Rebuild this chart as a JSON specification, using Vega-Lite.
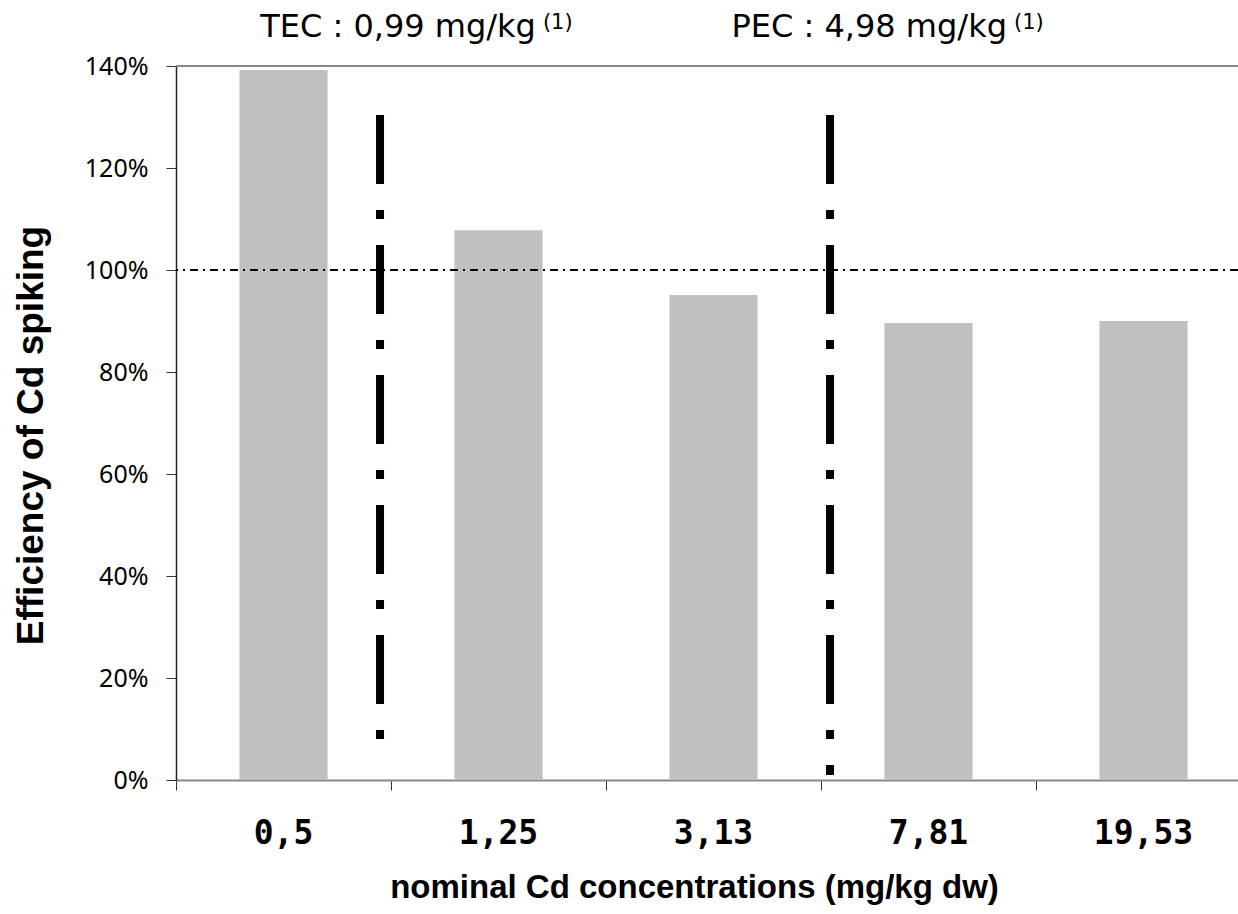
{
  "$schema": "https://vega.github.io/schema/vega-lite/v6.json",
  "width": 1062,
  "height": 714,
  "autosize": "none",
  "padding": {"left": 176, "top": 66, "right": 0, "bottom": 134},
  "background": "white",
  "config": {"view": {"stroke": null}},
  "datasets": {
    "bars": [
      {"conc": "0,5", "eff": 1.392},
      {"conc": "1,25", "eff": 1.078},
      {"conc": "3,13", "eff": 0.951},
      {"conc": "7,81", "eff": 0.896},
      {"conc": "19,53", "eff": 0.9}
    ],
    "limits": [
      {"name": "TEC", "pos": 0.949, "top": 1.304, "bottom": 0.08, "labelEnd": 1.674, "label": "TEC : 0,99 mg/kg", "sup": "(1)"},
      {"name": "PEC", "pos": 3.042, "top": 1.304, "bottom": 0.01, "labelEnd": 3.865, "label": "PEC : 4,98 mg/kg", "sup": "(1)"}
    ]
  },
  "layer": [
    {
      "data": {"name": "bars"},
      "mark": {"type": "bar", "color": "#c0c0c0"},
      "encoding": {
        "x": {
          "field": "conc", "type": "nominal", "sort": null,
          "scale": {"range": [0, 1075], "paddingInner": 0.59, "paddingOuter": 0.295},
          "axis": {
            "title": "nominal Cd concentrations (mg/kg dw)",
            "titleFont": "Liberation Sans", "titleFontSize": 33, "titleFontWeight": "bold", "titleColor": "black",
            "titleX": 518, "titleY": 117, "titleBaseline": "alphabetic", "titleAlign": "center",
            "labelFont": "DejaVu Sans Mono", "labelFontSize": 33, "labelFontWeight": "bold", "labelColor": "black",
            "labelAngle": 0, "labelBaseline": "alphabetic", "labelPadding": 63,
            "ticks": false, "domain": false, "grid": false
          }
        },
        "y": {
          "field": "eff", "type": "quantitative",
          "scale": {"domain": [0, 1.4], "nice": false, "zero": true},
          "axis": {
            "title": "Efficiency of Cd spiking",
            "titleFont": "Liberation Sans", "titleFontSize": 37, "titleFontWeight": "bold", "titleColor": "black",
            "titleX": -134, "titleY": 369, "titleAngle": -90, "titleBaseline": "alphabetic", "titleAlign": "center",
            "values": [0, 0.2, 0.4, 0.6, 0.8, 1.0, 1.2, 1.4],
            "format": ".0%",
            "labelFont": "Noto Sans", "labelFontSize": 25, "labelColor": "black", "labelPadding": 18,
            "tickSize": 10, "tickColor": "#333", "tickWidth": 1,
            "domainColor": "#222", "domainWidth": 1.5,
            "grid": false
          }
        }
      }
    },
    {
      "data": {"name": "bars"},
      "mark": {"type": "rule", "color": "black", "strokeWidth": 1.3, "strokeDash": [8, 5, 2, 5]},
      "encoding": {"y": {"datum": 1.0, "type": "quantitative", "scale": {"domain": [0, 1.4], "nice": false}}}
    },
    {
      "data": {"name": "bars"},
      "mark": {"type": "rule", "color": "#888", "strokeWidth": 2},
      "encoding": {"y": {"datum": 1.4, "type": "quantitative", "scale": {"domain": [0, 1.4], "nice": false}}}
    },
    {
      "data": {"name": "limits"},
      "mark": {"type": "rule", "color": "black", "strokeWidth": 8, "strokeDash": [69, 26, 9, 26]},
      "encoding": {
        "x": {
          "field": "pos", "type": "quantitative",
          "scale": {"domain": [0, 5], "range": [0, 1075]},
          "axis": {
            "orient": "bottom", "values": [0, 1, 2, 3, 4, 5], "labels": false, "title": null, "grid": false,
            "tickSize": 10, "tickColor": "#333", "tickWidth": 1,
            "domainColor": "#888", "domainWidth": 2
          }
        },
        "y": {"field": "top", "type": "quantitative", "title": "Efficiency of Cd spiking", "scale": {"domain": [0, 1.4], "nice": false}},
        "y2": {"field": "bottom"}
      }
    },
    {
      "data": {"name": "limits"},
      "mark": {"type": "text", "font": "DejaVu Sans", "fontSize": 32, "color": "black", "align": "right", "baseline": "alphabetic", "clip": false},
      "encoding": {
        "x": {"field": "labelEnd", "type": "quantitative", "scale": {"domain": [0, 5], "range": [0, 1075]}, "axis": null},
        "y": {"datum": 1.457, "type": "quantitative", "scale": {"domain": [0, 1.4], "nice": false}},
        "text": {"field": "label"}
      }
    },
    {
      "data": {"name": "limits"},
      "mark": {"type": "text", "font": "DejaVu Sans", "fontSize": 21, "color": "black", "align": "left", "baseline": "alphabetic", "dx": 7, "dy": -8, "clip": false},
      "encoding": {
        "x": {"field": "labelEnd", "type": "quantitative", "scale": {"domain": [0, 5], "range": [0, 1075]}, "axis": null},
        "y": {"datum": 1.457, "type": "quantitative", "scale": {"domain": [0, 1.4], "nice": false}},
        "text": {"field": "sup"}
      }
    }
  ],
  "resolve": {"scale": {"x": "independent"}}
}
